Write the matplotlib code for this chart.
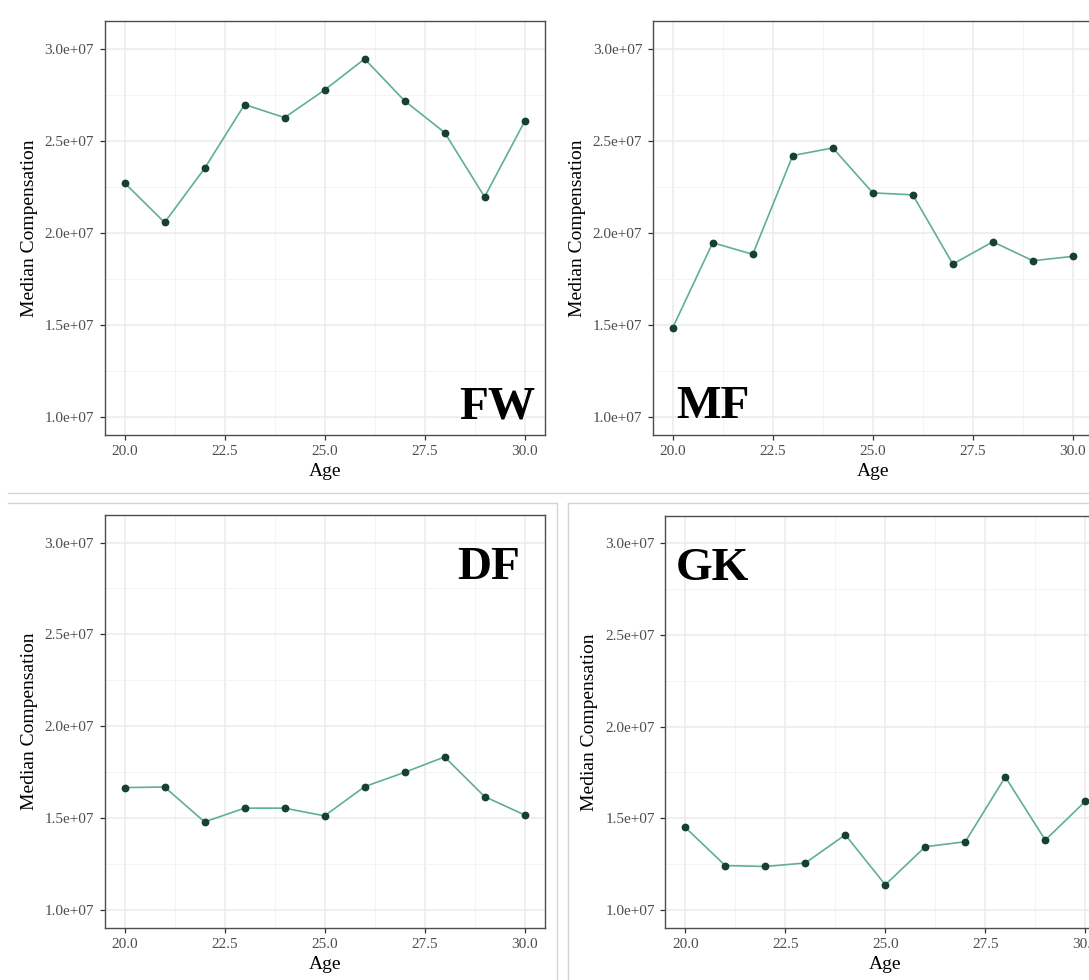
import matplotlib
matplotlib.use("Agg")
import matplotlib.pyplot as plt
from matplotlib.lines import Line2D
from matplotlib.ticker import FixedLocator, FuncFormatter
import numpy as np

plt.rcParams['font.family'] = ['Liberation Serif', 'DejaVu Serif']

# ages on the x axis
ages = [20, 21, 22, 23, 24, 25, 26, 27, 28, 29, 30]

# median compensation by position
fw_vals = [2.270e7, 2.055e7, 2.349e7, 2.696e7, 2.625e7, 2.775e7, 2.944e7, 2.716e7, 2.544e7, 2.194e7, 2.604e7]
mf_vals = [1.483e7, 1.945e7, 1.882e7, 2.419e7, 2.460e7, 2.216e7, 2.205e7, 1.829e7, 1.950e7, 1.847e7, 1.871e7]
df_vals = [1.665e7, 1.668e7, 1.478e7, 1.553e7, 1.553e7, 1.511e7, 1.670e7, 1.748e7, 1.832e7, 1.616e7, 1.516e7]
gk_vals = [1.449e7, 1.241e7, 1.236e7, 1.255e7, 1.409e7, 1.136e7, 1.344e7, 1.371e7, 1.725e7, 1.380e7, 1.592e7]

labels = ["FW", "MF", "DF", "GK"]
x_ticks = [20.0, 22.5, 25.0, 27.5, 30.0]
y_ticks = [1.0e7, 1.5e7, 2.0e7, 2.5e7, 3.0e7]

W, H = 1089, 980
fig = plt.figure(figsize=(W / 100, H / 100), dpi=100)
fig.patch.set_facecolor('white')

def px_axes(left, top, right, bottom):
    return fig.add_axes([left / W, 1 - bottom / H, (right - left) / W, (bottom - top) / H])

line_col = '#5fb08f'
pt_col = '#173f33'
grid_col = '#ebebeb'

def sci(v, pos):
    m = v / 1e7
    return f"{m:.1f}e+07"

def draw_panel(ax, vals, label, lx, ly, ha):
    ax.set_xlim(19.5, 30.5)
    ax.set_ylim(0.9e7, 3.15e7)
    ax.xaxis.set_major_locator(FixedLocator(x_ticks))
    ax.yaxis.set_major_locator(FixedLocator(y_ticks))
    ax.xaxis.set_minor_locator(FixedLocator([21.25, 23.75, 26.25, 28.75]))
    ax.yaxis.set_minor_locator(FixedLocator([1.25e7, 1.75e7, 2.25e7, 2.75e7]))
    ax.xaxis.set_major_formatter(FuncFormatter(lambda v, p: f"{v:.1f}"))
    ax.yaxis.set_major_formatter(FuncFormatter(sci))
    ax.grid(which='major', color=grid_col, lw=1.1)
    ax.grid(which='minor', color='#f2f2f2', lw=0.6)
    ax.set_axisbelow(True)
    for s in ax.spines.values():
        s.set_color('#4d4d4d')
        s.set_linewidth(1.0)
    ax.tick_params(which='major', length=3.5, width=0.9, color='#333333',
                   labelsize=11, labelcolor='#4d4d4d', pad=4)
    ax.tick_params(which='minor', length=0)
    ax.plot(ages, vals, color=line_col, lw=1.2, zorder=3)
    ax.plot(ages, vals, 'o', color=pt_col, ms=4.6, zorder=4)
    ax.set_xlabel("Age", fontsize=14, labelpad=3)
    ax.set_ylabel("Median Compensation", fontsize=14, labelpad=5)
    ax.text(lx, ly, label, ha=ha, va='baseline', fontsize=34, fontweight='bold', zorder=5)

ax1 = px_axes(104.6, 21, 544.6, 435)
draw_panel(ax1, fw_vals, labels[0], 30.26, 0.99e7, 'right')
ax2 = px_axes(652.7, 21, 1092.9, 435)
draw_panel(ax2, mf_vals, labels[1], 20.08, 0.99e7, 'left')
ax3 = px_axes(104.6, 515, 544.6, 928)
draw_panel(ax3, df_vals, labels[2], 29.88, 2.80e7, 'right')
ax4 = px_axes(665.3, 516, 1105.3, 928)
draw_panel(ax4, gk_vals, labels[3], 19.77, 2.80e7, 'left')

# screenshot frame lines between panels
sep = '#d4d4d4'
def hline(y, x0, x1):
    fig.add_artist(Line2D([x0 / W, x1 / W], [1 - y / H, 1 - y / H], color=sep, lw=1.0))
def vline(x, y0, y1):
    fig.add_artist(Line2D([x / W, x / W], [1 - y0 / H, 1 - y1 / H], color=sep, lw=1.0))

hline(493, 8, W)
hline(503, 8, 556.7)
vline(556.7, 503, H)
hline(503, 568.3, W)
vline(568.3, 503, H)

fig.savefig("out.png", dpi=100)
